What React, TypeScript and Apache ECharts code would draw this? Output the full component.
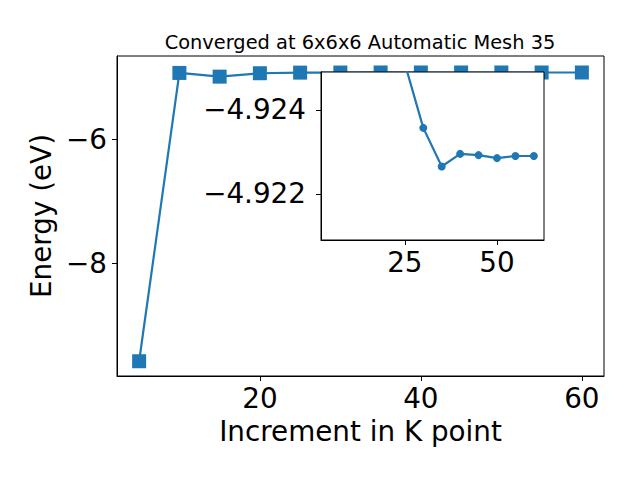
import React, { useEffect, useRef } from 'react';
import * as echarts from 'echarts';

const kPoints = [5, 10, 15, 20, 25, 30, 35, 40, 45, 50, 55, 60];
const energy = [-9.58, -4.93, -4.99, -4.935, -4.9251, -4.92357, -4.92265, -4.92295, -4.92292, -4.92285, -4.9229, -4.9229];
const mainXTicks = [20, 40, 60];
const mainYTicks = [-8, -6];
const insetXTicks = [25, 50];
const insetYTicks = [-4.924, -4.922];
const titleText = 'Converged at 6x6x6 Automatic Mesh 35';
const xName = 'Increment in K point';
const yName = 'Energy (eV)';

const FONT = 'DejaVu Sans';
const BLUE = '#1f77b4';
const fmt = (v: number, d: number) => (v < 0 ? '\u2212' : '') + Math.abs(v).toFixed(d);

export default function App() {
  const ref = useRef<HTMLDivElement>(null);
  useEffect(() => {
    if (!ref.current) return;
    const chart = echarts.init(ref.current, undefined, { renderer: 'svg' });
    const pts = kPoints.map((x, i) => [x, energy[i]]);
    const axisCommon = {
      type: 'value' as const,
      axisLine: { show: true, onZero: false, lineStyle: { color: '#000', width: 1 } },
      splitLine: { show: false },
    };
    const labelStyle = { fontSize: 27.8, color: '#000', fontFamily: FONT };
    chart.setOption({
      animation: false,
      backgroundColor: '#fff',
      graphic: [
        {
          type: 'text',
          x: 360,
          y: 42,
          style: { text: titleText, fontSize: 19.4, fontFamily: FONT, fill: '#000', textAlign: 'center', textVerticalAlign: 'middle' },
        },
      ],
      grid: [
        { left: 117, top: 56, right: 36, bottom: 104, show: true, borderColor: '#000', borderWidth: 1, backgroundColor: '#fff' },
        { left: 321, top: 72, right: 96, bottom: 240, show: true, borderColor: '#000', borderWidth: 1, backgroundColor: '#fff', z: 10 },
      ],
      xAxis: [
        {
          ...axisCommon,
          gridIndex: 0,
          min: 2.25,
          max: 62.75,
          axisTick: { show: true, length: 5, customValues: mainXTicks, lineStyle: { color: '#000' } },
          axisLabel: { ...labelStyle, customValues: mainXTicks, margin: 8, formatter: (v: number) => fmt(v, 0) },
          name: xName,
          nameLocation: 'middle',
          nameGap: 41,
          nameTextStyle: labelStyle,
        },
        {
          ...axisCommon,
          gridIndex: 1,
          z: 11,
          min: 2.25,
          max: 62.75,
          axisTick: { show: true, length: 5, customValues: insetXTicks, lineStyle: { color: '#000' } },
          axisLabel: { ...labelStyle, customValues: insetXTicks, margin: 8.5, formatter: (v: number) => fmt(v, 0) },
        },
      ],
      yAxis: [
        {
          ...axisCommon,
          gridIndex: 0,
          min: -9.818,
          max: -4.657,
          axisTick: { show: true, length: 5, customValues: mainYTicks, lineStyle: { color: '#000' } },
          axisLabel: { ...labelStyle, customValues: mainYTicks, margin: 10, formatter: (v: number) => fmt(v, 0) },
          name: yName,
          nameLocation: 'middle',
          nameGap: 61,
          nameTextStyle: labelStyle,
        },
        {
          ...axisCommon,
          gridIndex: 1,
          z: 11,
          inverse: true,
          min: -4.9249,
          max: -4.9209,
          axisTick: { show: true, length: 5, customValues: insetYTicks, lineStyle: { color: '#000' } },
          axisLabel: { ...labelStyle, customValues: insetYTicks, margin: 15, formatter: (v: number) => fmt(v, 3) },
        },
      ],
      series: [
        {
          type: 'line',
          xAxisIndex: 0,
          yAxisIndex: 0,
          data: pts,
          symbol: 'rect',
          symbolSize: 14,
          lineStyle: { color: BLUE, width: 2.2 },
          itemStyle: { color: BLUE },
          z: 2,
        },
        {
          type: 'line',
          xAxisIndex: 1,
          yAxisIndex: 1,
          data: pts,
          symbol: 'circle',
          symbolSize: 8,
          clip: true,
          lineStyle: { color: BLUE, width: 2.2 },
          itemStyle: { color: BLUE },
          z: 12,
        },
      ],
    });
    return () => chart.dispose();
  }, []);
  return <div ref={ref} style={{ position: 'fixed', left: 0, top: 0, width: 640, height: 480 }} />;
}
